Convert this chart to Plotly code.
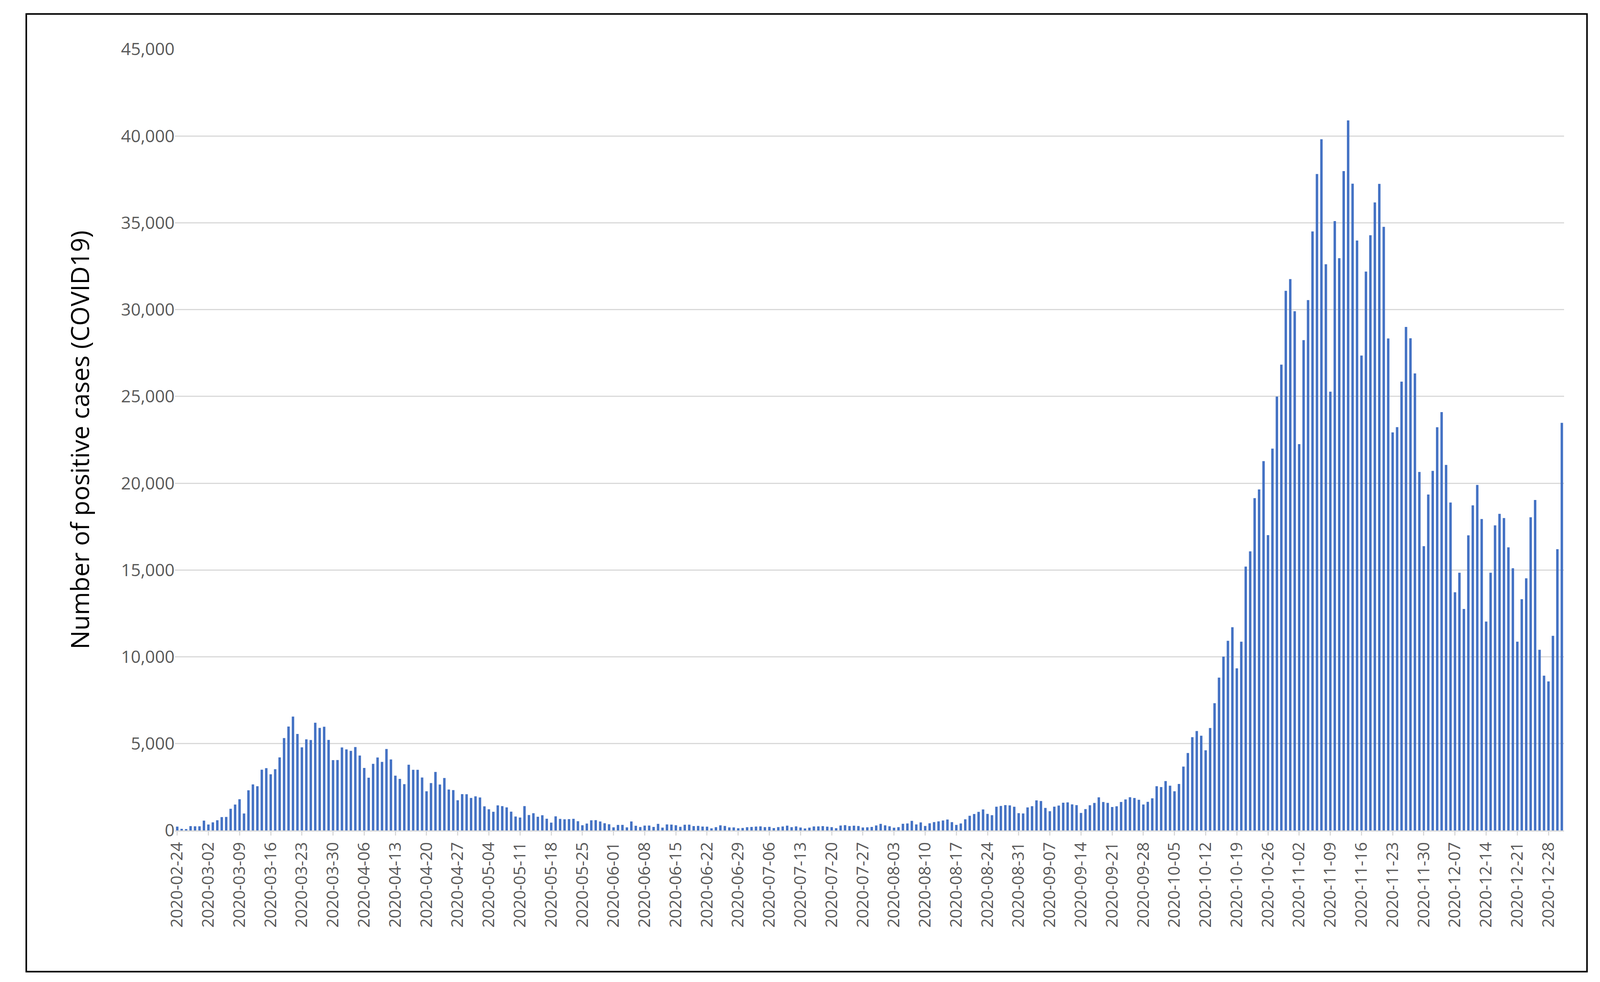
import plotly.graph_objects as go
import pandas as pd

start = "2020-02-24"
feb = [221, 93, 78, 250, 238, 240]
mar = [566, 342, 466, 587, 769, 778, 1247, 1492, 1797, 977, 2313, 2651, 2547, 3497, 3590, 3233,
       3526, 4207, 5322, 5986, 6557, 5560, 4789, 5249, 5210, 6203, 5909, 5974, 5217, 4050, 4053]
apr = [4782, 4668, 4585, 4805, 4316, 3599, 3039, 3836, 4204, 3951, 4694, 4092, 3153, 2972, 2667,
       3786, 3493, 3491, 3047, 2256, 2729, 3370, 2646, 3021, 2357, 2324, 1739, 2091, 2086, 1872]
may = [1965, 1900, 1389, 1221, 1075, 1444, 1401, 1327, 1083, 802, 744, 1402, 888, 992, 789, 875,
       675, 451, 813, 665, 642, 652, 669, 531, 300, 397, 584, 593, 516, 416, 355]
jun = [178, 318, 321, 177, 518, 270, 197, 280, 283, 202, 379, 163, 346, 338, 301, 210, 329, 333,
       251, 262, 224, 218, 122, 190, 296, 259, 175, 174, 126, 142]
jul = [187, 201, 223, 235, 192, 208, 138, 193, 229, 276, 188, 234, 169, 114, 162, 230, 233, 249,
       219, 190, 129, 282, 306, 252, 275, 255, 170, 181, 202, 288, 379]
aug = [295, 239, 159, 190, 384, 402, 552, 347, 463, 259, 412, 481, 523, 574, 629, 479, 320, 403,
       642, 845, 947, 1071, 1210, 953, 878, 1367, 1411, 1460, 1444, 1365, 996]
sep = [978, 1326, 1397, 1733, 1695, 1297, 1108, 1370, 1434, 1597, 1616, 1501, 1458, 1008, 1229,
       1452, 1585, 1907, 1638, 1587, 1350, 1392, 1640, 1786, 1912, 1869, 1766, 1494, 1648, 1851]
oct_ = [2548, 2499, 2844, 2578, 2257, 2677, 3678, 4458, 5372, 5724, 5456, 4619, 5901, 7332, 8804,
        10010, 10925, 11705, 9338, 10874, 15199, 16079, 19143, 19644, 21273, 17012, 21994, 24991,
        26831, 31084, 31758]
nov = [29907, 22253, 28244, 30550, 34505, 37809, 39811, 32616, 25271, 35098, 32961, 37978, 40902,
       37255, 33979, 27354, 32191, 34283, 36176, 37242, 34767, 28337, 22930, 23232, 25853, 29003,
       28352, 26323, 20648, 16377]
dec = [19350, 20709, 23225, 24099, 21052, 18887, 13720, 14842, 12756, 16999, 18727, 19903, 17938,
       12030, 14844, 17572, 18236, 17992, 16308, 15104, 10872, 13318, 14522, 18040, 19037, 10407,
       8913, 8585, 11212, 16202, 23477]

cases = feb + mar + apr + may + jun + jul + aug + sep + oct_ + nov + dec
dates = [d.strftime("%Y-%m-%d") for d in pd.date_range(start, periods=len(cases))]
ticks = dates[::7]

fig = go.Figure(go.Bar(x=dates, y=cases, marker_color="#4472C4", marker_line_width=0))

# approximate page size, figure fills the window
W, H = 4400, 2490
l, r, t, b = 440, 84, 118, 380
pw, ph = W - l - r, H - t - b
fig.add_shape(type="rect", xref="paper", yref="paper",
              x0=(25 - l) / pw, x1=(W - 20 - l) / pw,
              y0=-(H - 20 - (t + ph)) / ph, y1=1 + (t - 28) / ph,
              line=dict(color="black", width=4))

fig.update_layout(
    margin=dict(l=l, r=r, t=t, b=b),
    plot_bgcolor="white", paper_bgcolor="white", bargap=0.45, showlegend=False,
    font=dict(family="Open Sans", color="#595959"),
)
fig.update_xaxes(type="category", tickmode="array", tickvals=ticks, ticktext=ticks,
                 tickangle=-90, tickfont=dict(size=42), showgrid=False,
                 showline=True, linecolor="#D9D9D9", linewidth=3,
                 ticks="outside", tickcolor="#D9D9D9", ticklen=10, tickwidth=3)
fig.update_yaxes(range=[0, 45000], dtick=5000, tickformat=",", tickfont=dict(size=44),
                 gridcolor="#D9D9D9", gridwidth=3, zeroline=False,
                 title=dict(text="Number of positive cases (COVID19)",
                            font=dict(size=64, color="black"), standoff=60))

fig.write_html("out.html")
